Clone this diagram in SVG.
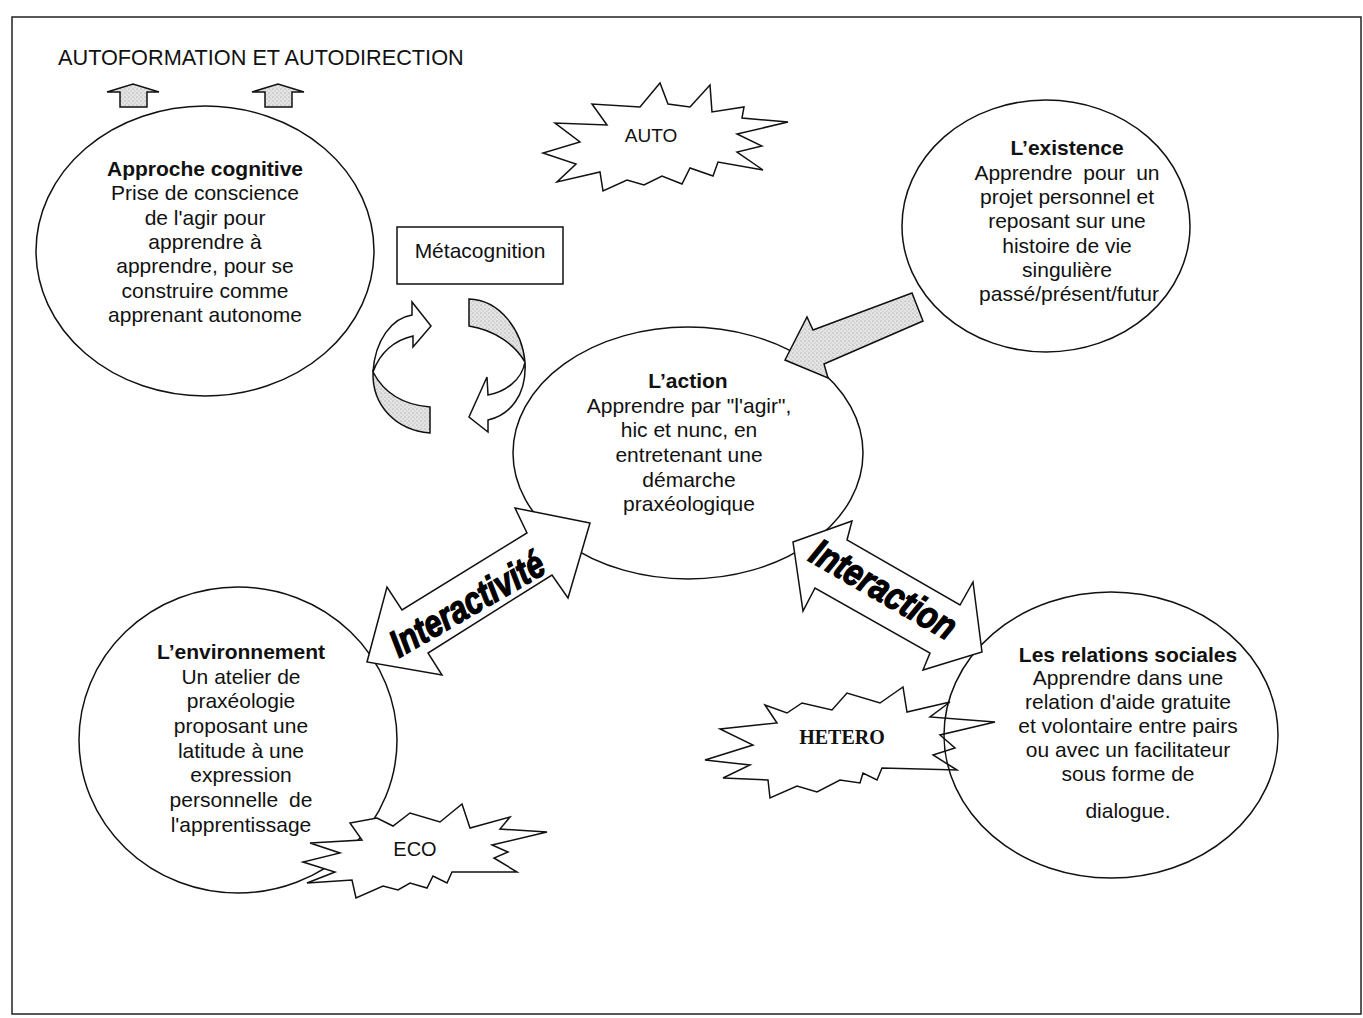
<svg xmlns="http://www.w3.org/2000/svg" width="1363" height="1018" viewBox="0 0 1363 1018">
<defs>
<pattern id="stip" width="4" height="4" patternUnits="userSpaceOnUse">
<rect width="4" height="4" fill="#e4e4e4"/>
<circle cx="1" cy="1" r="0.6" fill="#8a8a8a"/>
<circle cx="3" cy="3" r="0.5" fill="#a8a8a8"/>
</pattern>
</defs>
<style>
.t{font-family:"Liberation Sans",Arial,sans-serif;font-size:21px;fill:#111;text-anchor:middle}
.b{font-weight:bold}
.ln{fill:none;stroke:#111;stroke-width:1.5}
.wf{fill:#fff;stroke:#111;stroke-width:1.5;stroke-linejoin:miter}
.sf{fill:url(#stip);stroke:#111;stroke-width:1.5}
.big{font-family:"Liberation Sans",Arial,sans-serif;font-weight:bold;font-style:italic;font-size:38px;fill:#000;stroke:#000;stroke-width:1.4}
</style>
<rect x="0" y="0" width="1363" height="1018" fill="#fff"/>
<rect x="12" y="17" width="1349" height="997" fill="none" stroke="#222" stroke-width="1.5"/>

<g id="title">
<text class="t" x="58" y="65" style="text-anchor:start;font-size:21.7px">AUTOFORMATION ET AUTODIRECTION</text>
<polygon class="sf" points="107,92 133,84 159,92 147,92 147,107 120,107 120,92"/>
<polygon class="sf" points="252,92 278,84 304,92 292,92 292,107 265,107 265,92"/>
</g>

<g id="star-hetero">
<polygon class="wf" points="765,705 777,723 720,729 753,745 705,760 750,765 723,778 768,780 770,798 797,786 817,792 840,780 860,783 863,773 877,780 882,768 957,770 933,755 955,748 940,735 995,722 930,717 950,702 907,712 903,687 880,703 847,693 832,710 802,703 787,713"/>
<text x="842" y="744" style="font-family:'Liberation Serif','Times New Roman',serif;font-weight:bold;font-size:20px;text-anchor:middle;fill:#111">HETERO</text>
</g>

<g id="node-cognitive">
<ellipse class="ln" cx="205" cy="251" rx="169" ry="145"/>
<text class="t b" x="205" y="176">Approche cognitive</text>
<text class="t" x="205" y="200">Prise de conscience</text>
<text class="t" x="205" y="225">de l'agir pour</text>
<text class="t" x="205" y="249">apprendre à</text>
<text class="t" x="205" y="273">apprendre, pour se</text>
<text class="t" x="205" y="298">construire comme</text>
<text class="t" x="205" y="322">apprenant autonome</text>
</g>

<g id="node-existence">
<ellipse class="ln" cx="1046" cy="226" rx="144" ry="126"/>
<text class="t b" x="1067" y="155">L’existence</text>
<text class="t" x="1067" y="180" word-spacing="5">Apprendre pour un</text>
<text class="t" x="1067" y="204">projet personnel et</text>
<text class="t" x="1067" y="228">reposant sur une</text>
<text class="t" x="1067" y="253">histoire de vie</text>
<text class="t" x="1067" y="277">singulière</text>
<text class="t" x="1069" y="301">passé/présent/futur</text>
</g>

<g id="node-action">
<ellipse class="ln" cx="688" cy="453" rx="175" ry="126"/>
<text class="t b" x="688" y="388">L’action</text>
<text class="t" x="689" y="413">Apprendre par "l'agir",</text>
<text class="t" x="689" y="437">hic et nunc, en</text>
<text class="t" x="689" y="462">entretenant une</text>
<text class="t" x="689" y="487">démarche</text>
<text class="t" x="689" y="511">praxéologique</text>
</g>

<g id="node-environnement">
<ellipse class="ln" cx="238" cy="740" rx="159" ry="153"/>
<text class="t b" x="241" y="659">L’environnement</text>
<text class="t" x="241" y="684">Un atelier de</text>
<text class="t" x="241" y="708">praxéologie</text>
<text class="t" x="241" y="733">proposant une</text>
<text class="t" x="241" y="758">latitude à une</text>
<text class="t" x="241" y="782">expression</text>
<text class="t" x="241" y="807" word-spacing="5">personnelle de</text>
<text class="t" x="241" y="832">l'apprentissage</text>
</g>

<g id="node-relations">
<ellipse class="ln" cx="1111" cy="735" rx="167" ry="143"/>
<text class="t b" x="1128" y="662">Les relations sociales</text>
<text class="t" x="1128" y="685">Apprendre dans une</text>
<text class="t" x="1128" y="709">relation d'aide gratuite</text>
<text class="t" x="1128" y="733">et volontaire entre pairs</text>
<text class="t" x="1128" y="757">ou avec un facilitateur</text>
<text class="t" x="1128" y="781">sous forme de</text>
<text class="t" x="1128" y="818">dialogue.</text>
</g>

<g id="star-auto">
<polygon class="wf" points="592,104 607,125 555,123 580,142 543,153 576,164 557,182 600,172 603,191 627,180 644,185 662,176 682,184 690,168 713,176 718,162 763,170 737,152 762,146 737,134 788,122 742,118 744,107 712,112 710,85 690,107 668,104 660,83 640,107"/>
<text class="t" x="651" y="142" style="font-size:19px">AUTO</text>
</g>

<g id="star-eco">
<polygon class="wf" points="350,823 362,840 310,843 340,853 303,862 335,872 307,883 352,880 356,898 383,886 398,890 410,883 427,888 433,876 447,883 452,872 517,872 494,858 508,852 492,845 547,832 500,829 510,817 470,828 462,804 440,822 410,813 393,826 377,818"/>
<text class="t" x="415" y="856" style="font-size:20px">ECO</text>
</g>

<g id="node-metacognition">
<rect x="397" y="227" width="166" height="57" fill="#fff" stroke="#111" stroke-width="1.5"/>
<text class="t" x="480" y="258">Métacognition</text>
</g>

<g id="connectors">
<path class="wf" d="M373,372 C375,340 392,318 412,315 L412,302 L431,326 L413,347 L413,336 C395,340 380,352 373,372 Z"/>
<path class="sf" d="M373,372 C385,395 405,405 430,407 L430,433 C395,430 372,405 373,372 Z"/>
<path class="sf" d="M469,299 C500,300 522,330 525,362 C515,345 495,330 469,326 Z"/>
<path class="wf" d="M525,362 C522,380 505,392 488,395 L487,377 L469,417 L488,432 L488,420 C510,415 527,395 525,362 Z"/>
<polygon class="sf" points="785,360 807,317 813,330 912,293 923,321 824,364 828,378"/>
<polygon class="wf" points="590,523 515,508 527,533 402,610 387,587 367,662 442,675 428,653 552,575 568,598"/>
<text class="big" transform="translate(399,658) rotate(-30)" textLength="172" lengthAdjust="spacingAndGlyphs">Interactivité</text>
<polygon class="wf" points="793,542 852,521 847,540 960,605 973,582 982,652 923,670 930,653 815,588 803,611"/>
<text class="big" transform="translate(807,560) rotate(30)" textLength="162" lengthAdjust="spacingAndGlyphs">Interaction</text>
</g>
</svg>
